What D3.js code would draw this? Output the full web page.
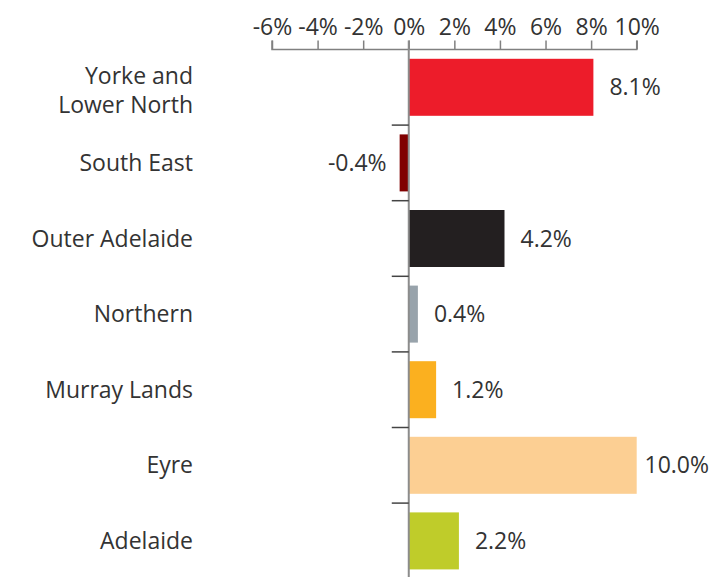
<!DOCTYPE html>
<html lang="en">
<head>
<meta charset="UTF-8">
<title>Regional change</title>
<script src="https://d3js.org/d3.v7.min.js"></script>
<style>
    body { margin: 0; background: #fff; }
    svg text { font-family: "Open Sans", sans-serif; fill: #333; }
</style>
</head>
<body>
<svg id="chart"></svg>
<script>
// chart data
var regions = ["Yorke and|Lower North", "South East", "Outer Adelaide", "Northern", "Murray Lands", "Eyre", "Adelaide"];
var values = [8.1, -0.4, 4.2, 0.4, 1.2, 10.0, 2.2];
var barColours = ["#ed1c2a", "#800000", "#231f20", "#98a3ab", "#fbb01f", "#fccf93", "#bfcc2a"];
var tickValues = [-6, -4, -2, 0, 2, 4, 6, 8, 10];

var svgWidth = 713, svgHeight = 577;
var axisY = 49.5;
var step = 75.6;
var fontSize = "23px";

var svg = d3.select("#chart")
    .attr("width", svgWidth)
    .attr("height", svgHeight);

var xs = d3.scaleLinear().domain([-6, 10]).range([272, 636.7]);
var ys = d3.scaleBand()
    .domain(regions)
    .range([axisY, axisY + step * regions.length])
    .paddingInner(0.246)
    .paddingOuter(0.123);

// top axis
var axis = svg.append("g")
    .attr("transform", "translate(0," + axisY + ")")
    .call(d3.axisTop(xs)
        .tickValues(tickValues)
        .tickSize(9)
        .tickPadding(6)
        .tickFormat(function(d) { return d + "%"; }));
axis.select(".domain").attr("stroke", "#808080").attr("stroke-width", 1.5).attr("d", "M" + xs(-6) + ",-9V0H" + xs(10) + "V-9");
axis.selectAll(".tick line").attr("stroke", "#808080").attr("stroke-width", 1.5);
axis.selectAll(".tick text").style("font-size", fontSize).style("fill", "#333");

// bars
svg.append("g").selectAll("rect")
    .data(values)
    .enter()
    .append("rect")
    .attr("x", function(d) { return xs(Math.min(0, d)); })
    .attr("y", function(d, i) { return ys(regions[i]); })
    .attr("width", function(d) { return Math.abs(xs(d) - xs(0)); })
    .attr("height", ys.bandwidth())
    .attr("fill", function(d, i) { return barColours[i]; });

// zero line
svg.append("line")
    .attr("x1", xs(0)).attr("x2", xs(0))
    .attr("y1", axisY - 9).attr("y2", svgHeight)
    .attr("stroke", "#8c8c8c")
    .attr("stroke-width", 2);

// category ticks between bands
svg.append("g").selectAll("line")
    .data(regions.slice(1))
    .enter()
    .append("line")
    .attr("x1", xs(0) - 17).attr("x2", xs(0))
    .attr("y1", function(d) { return ys(d) - ys.step() * ys.paddingInner() / 2; })
    .attr("y2", function(d) { return ys(d) - ys.step() * ys.paddingInner() / 2; })
    .attr("stroke", "#444")
    .attr("stroke-width", 1.5);

// category labels
svg.append("g").selectAll("text")
    .data(regions)
    .enter()
    .append("text")
    .attr("text-anchor", "end")
    .style("font-size", fontSize)
    .each(function(d) {
        var lines = d.split("|");
        var cy = ys(d) + ys.bandwidth() / 2;
        var t = d3.select(this);
        lines.forEach(function(l, k) {
            t.append("tspan")
                .attr("x", 193)
                .attr("y", cy + (k - (lines.length - 1) / 2) * 29 + (lines.length > 1 ? 3 : 0))
                .attr("dy", "0.35em")
                .text(l);
        });
    });

// value labels (pulled in if they would run off the right edge)
svg.append("g").selectAll("text")
    .data(values)
    .enter()
    .append("text")
    .attr("x", function(d) { return d < 0 ? xs(d) - 13 : xs(d) + 16; })
    .attr("y", function(d, i) { return ys(regions[i]) + ys.bandwidth() / 2; })
    .attr("dy", "0.35em")
    .attr("text-anchor", function(d) { return d < 0 ? "end" : "start"; })
    .style("font-size", fontSize)
    .text(function(d) { return d.toFixed(1) + "%"; })
    .each(function(d) {
        if (d < 0) return;
        var len = this.getComputedTextLength();
        var x = +d3.select(this).attr("x");
        if (x + len > svgWidth - 4) d3.select(this).attr("x", svgWidth - 4 - len);
    });
</script>
</body>
</html>
